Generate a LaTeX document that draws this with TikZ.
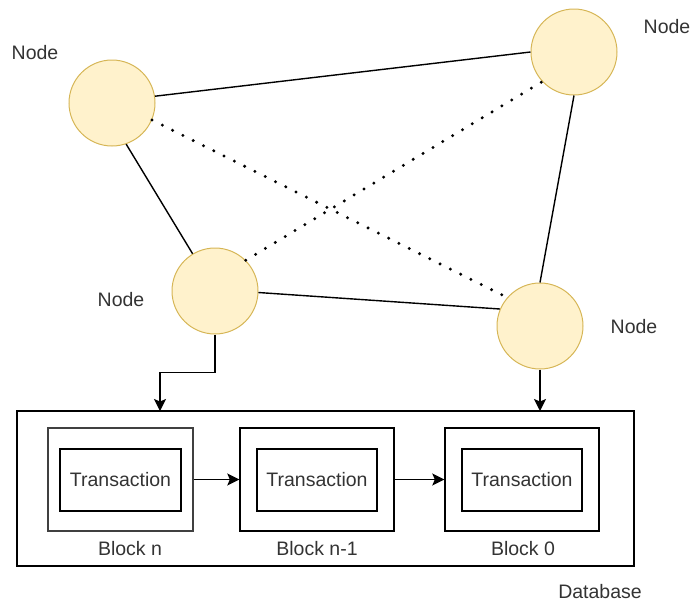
\documentclass[tikz,border=0pt]{standalone}
\usepackage{fontspec}
\setmainfont{Liberation Sans}
\usetikzlibrary{arrows.meta}
\definecolor{nodefill}{HTML}{FFF2CC}
\definecolor{nodedraw}{HTML}{D6B656}
\definecolor{txt}{HTML}{333333}
\begin{document}
\begin{tikzpicture}[x=1pt,y=-1pt,
  peer/.style={circle,fill=nodefill,draw=nodedraw,line width=1pt,minimum size=86pt,inner sep=0pt},
  lbl/.style={text=txt,font=\fontsize{19.5}{23}\selectfont,inner sep=0pt},
  link/.style={line width=1.4pt},
  dotlink/.style={line width=3.3pt,dash pattern=on 0pt off 11.5pt,line cap=round},
  arr/.style={line width=1.4pt,-{Stealth[length=12pt,width=12pt,inset=2.5pt]}},
  blockbox/.style={draw,line width=1.4pt,inner sep=0pt},
  txbox/.style={draw,line width=1.4pt,inner sep=0pt,minimum width=121pt,minimum height=62pt,text=txt,font=\fontsize{19.5}{23}\selectfont}
]
\useasboundingbox (0,0) rectangle (694,603);

% peers
\node[peer] (A) at (112,103) {};
\node[peer] (B) at (574,52) {};
\node[peer] (C) at (215,291) {};
\node[peer] (D) at (540,326) {};

\node[lbl] (lA) at (35,53) {Node};
\node[lbl] (lB) at (667,27) {Node};
\node[lbl] (lC) at (121,300) {Node};
\node[lbl] (lD) at (634,327) {Node};

% links
\draw[link] (A.9) -- (B.180);
\draw[link] (A.-71) -- (C.121);
\draw[link] (B.-90) -- (D.90);
\draw[link] (C.-2) -- (D.157);
\draw[dotlink] (A.-23) -- (D.139);
\draw[dotlink] (C.45) -- (B.223);

% database
\node[draw,line width=1.4pt,minimum width=617pt,minimum height=155pt,inner sep=0pt] (db) at (325.5,488.5) {};
\node[lbl] (ldb) at (600,592) {Database};

% blocks
\node[blockbox,minimum width=145pt,minimum height=103pt,line width=1.8pt,draw=black!75] (b1) at (120.5,479.5) {};
\node[blockbox,minimum width=154pt,minimum height=103pt] (b2) at (317,479.5) {};
\node[blockbox,minimum width=154pt,minimum height=103pt] (b3) at (522,479.5) {};

\node[txbox] (t1) at (120.5,480) {Transaction};
\node[txbox,minimum width=120pt] (t2) at (317,480) {Transaction};
\node[txbox,minimum width=120pt] (t3) at (522,480) {Transaction};

\node[lbl] (lb1) at (130,549) {Block n};
\node[lbl] (lb2) at (317,549) {Block n-1};
\node[lbl] (lb3) at (523,549) {Block 0};

\draw[arr] (b1.east) -- (b2.west);
\draw[arr] (b2.east) -- (b3.west);

% node to database
\coordinate (in1) at (160,411);
\coordinate (in2) at (540,411);
\draw[arr] (C.south) -- ++(0,38) -| (in1);
\draw[arr] (D.south) -- (in2);
\end{tikzpicture}
\end{document}
